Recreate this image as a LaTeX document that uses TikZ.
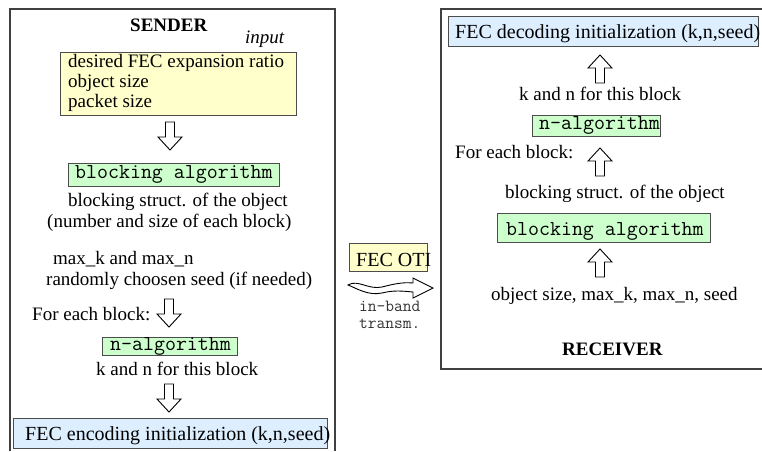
\documentclass[tikz,border=0pt]{standalone}
\usepackage{fontspec}
\setmainfont{Liberation Serif}
\definecolor{inyellow}{HTML}{FFFFCC}
\definecolor{algogreen}{HTML}{CCFFCC}
\definecolor{initblue}{HTML}{DDEEFF}

\begin{document}
\begin{tikzpicture}[x=1pt, y=-1pt,
    every node/.style={inner sep=0pt, font=\fontsize{19}{20}\selectfont},
    txt/.style={anchor=base west},
    algo/.style={anchor=base west, font=\fontsize{21.3}{22}\selectfont\ttfamily},
    frame/.style={draw=black!75, line width=1.5pt},
    box/.style={draw=black!70, line width=1pt},
    hollow/.style={draw=black, line width=0.9pt, fill=white}]
      \useasboundingbox (0,0) rectangle (762,451);
      \def\hollowdown#1#2{\draw[hollow] (#1-4.5,#2) -- ++(0,15) -- ++(-7.5,0) -- ++(12,13) -- ++(12,-13) -- ++(-7.5,0) -- ++(0,-15) -- cycle;}
      \def\hollowup#1#2{\draw[hollow] (#1,#2) -- ++(12,13) -- ++(-7.5,0) -- ++(0,15) -- ++(-9,0) -- ++(0,-15) -- ++(-7.5,0) -- cycle;}

      % frames
      \draw[frame] (10,451) -- (10,9) -- (335,9) -- (335,451);
      \draw[frame] (762,9) -- (441,9) -- (441,369) -- (762,369);

      % sender
      \node[txt, font=\fontsize{19}{20}\selectfont\bfseries] (sender) at (130,31) {SENDER};
      \node[txt, font=\fontsize{19}{20}\selectfont\itshape] (input) at (245,43) {input};
      \draw[box, fill=inyellow] (60,52) rectangle (296,115);
      \node[anchor=north west, align=left] (params) at (68,54) {desired FEC expansion ratio\\object size\\packet size};
      \hollowdown{170}{122}
      \draw[box, fill=algogreen] (68,163) rectangle (279,186);
      \node[algo] (sblocking) at (75,178) {blocking algorithm};
      \node[txt] (sstruct) at (68,206) {blocking struct. of the object};
      \node[txt] (sstruct2) at (47,227) {(number and size of each block)};
      \node[txt] (maxkn) at (53,264) {max\_k and max\_n};
      \node[txt] (seed) at (46,285) {randomly choosen seed (if needed)};
      \node[txt] (seach) at (32,320) {For each block:};
      \hollowdown{169}{299}
      \draw[box, fill=algogreen] (102,337) rectangle (237,355);
      \node[algo] (snalgo) at (110,350) {n-algorithm};
      \node[txt] (skn) at (96,375) {k and n for this block};
      \hollowdown{169}{384}
      \draw[box, fill=initblue] (13,418) rectangle (327,448);
      \node[txt, font=\fontsize{20}{20}\selectfont] (encinit) at (25,440) {FEC encoding initialization (k,n,seed)};

      % in-band transmission
      \draw[box, fill=inyellow] (349,243) rectangle (427,271);
      \node[txt, font=\fontsize{20}{20}\selectfont] (oti) at (356,266) {FEC OTI};
      \draw[hollow] (348,285) .. controls (358,279) and (368,290) .. (382,287)
        .. controls (394,284) and (402,282) .. (413,283) -- (413,278) -- (433,288)
        -- (413,298) -- (413,292) .. controls (402,291) and (394,290) .. (382,293)
        .. controls (368,296) and (356,288) .. (348,285) -- cycle;
      \node[txt, text=black!80, font=\fontsize{17}{13}\selectfont\ttfamily] (inband) at (359,311) {in-band};
      \node[txt, text=black!80, font=\fontsize{17}{13}\selectfont\ttfamily] (transm) at (359,328) {transm.};

      % receiver
      \draw[box, fill=initblue] (448,16) rectangle (758,46);
      \node[txt, font=\fontsize{20}{20}\selectfont] (decinit) at (455,38) {FEC decoding initialization (k,n,seed)};
      \hollowup{600}{55}
      \node[txt] (rkn) at (519,100) {k and n for this block};
      \draw[box, fill=algogreen] (532,115) rectangle (660,136);
      \node[algo] (rnalgo) at (539,129) {n-algorithm};
      \node[txt] (reach) at (455,158) {For each block:};
      \hollowup{600}{148}
      \node[txt] (rstruct) at (505,198) {blocking struct. of the object};
      \draw[box, fill=algogreen] (497,213) rectangle (710,242);
      \node[algo] (rblocking) at (506,235) {blocking algorithm};
      \hollowup{600}{249}
      \node[txt] (rinput) at (491,300) {object size, max\_k, max\_n, seed};
      \node[txt, font=\fontsize{19}{20}\selectfont\bfseries] (receiver) at (562,355) {RECEIVER};

    \end{tikzpicture}
\end{document}
